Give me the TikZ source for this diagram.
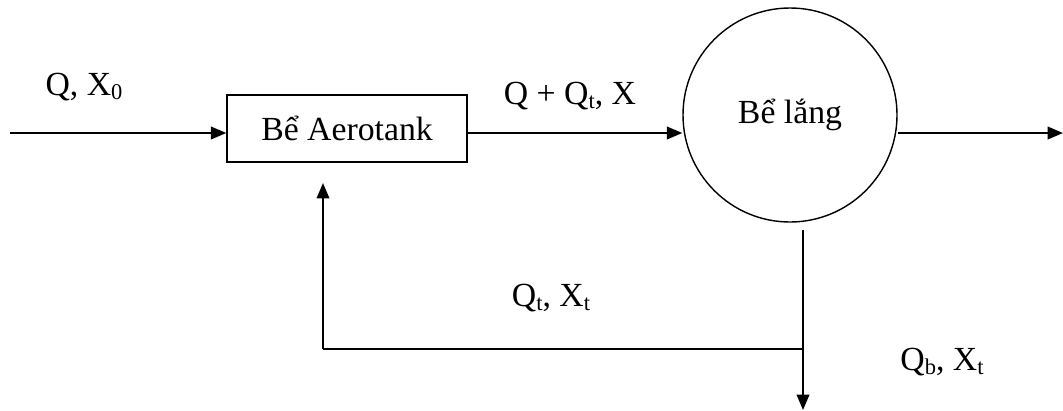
\documentclass[tikz,border=0pt]{standalone}
\usepackage{fontspec}
\setmainfont{Liberation Serif}
\usetikzlibrary{arrows.meta}
\tikzset{
  flow/.style={line width=1.3pt,-{Triangle[length=11pt,width=9pt]}},
  pipe/.style={line width=1.3pt},
  lbl/.style={inner sep=0pt,font=\fontsize{24}{28}\selectfont}
}
\newcommand{\lsub}[1]{\raisebox{-0.12em}{\fontsize{16}{16}\selectfont #1}}
\begin{document}
\begin{tikzpicture}[x=0.025cm,y=-0.025cm]
\useasboundingbox (0,0) rectangle (1063,410);
\node[draw,line width=1pt,minimum width=240*0.025cm,minimum height=67*0.025cm,
  font=\fontsize{24}{28}\selectfont] (aero) at (347,128.5) {Bể Aerotank};
\node[draw,circle,line width=1pt,minimum size=214*0.025cm,inner sep=0pt,
  font=\fontsize{24}{28}\selectfont] (lang) at (790,115) {Bể lắng};
\coordinate (in) at (10,133);
\coordinate (out) at (1063,133);
\coordinate (drain) at (803,230);
\coordinate (split) at (803,349);
\coordinate (bend) at (323,349);
\coordinate (ret) at (323,183);
\coordinate (sludge) at (803,410);
\draw[flow] (in) -- (aero.west |- in);
\draw[flow] (aero.east |- in) -- (lang.west |- in);
\draw[flow] (lang.east |- out) -- (out);
\draw[flow] (drain) -- (sludge);
\draw[pipe] (split) -- (bend);
\draw[flow] (bend) -- (ret);
\node[lbl] (qin) at (84,87) {Q, X\lsub{0}};
\node[lbl] (qmix) at (570,96) {Q + Q\lsub{t}, X};
\node[lbl] (qret) at (551,298) {Q\lsub{t}, X\lsub{t}};
\node[lbl] (qwaste) at (942,362) {Q\lsub{b}, X\lsub{t}};
\end{tikzpicture}
\end{document}
